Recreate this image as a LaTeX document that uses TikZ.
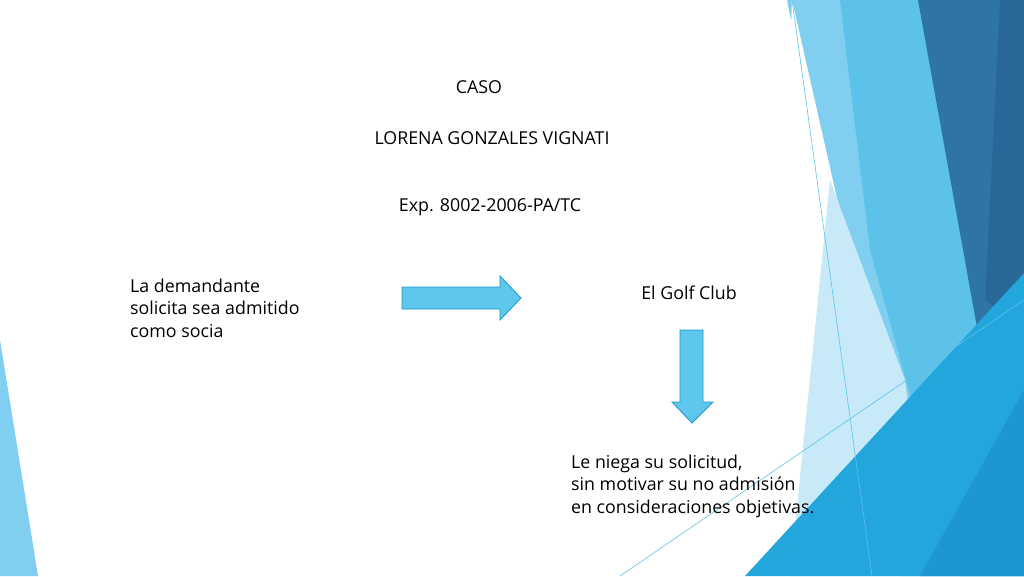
\documentclass[tikz,border=0pt]{standalone}
\usepackage{fontspec}
\setmainfont{Open Sans}
\begin{document}
\begin{tikzpicture}[x=1pt,y=-1pt]
  % Couleurs
  \definecolor{ciel}{RGB}{128,206,240}
  \definecolor{pale}{RGB}{200,234,248}
  \definecolor{moyen}{RGB}{92,194,234}
  \definecolor{fonce}{RGB}{46,117,166}
  \definecolor{fonce2}{RGB}{40,104,152}
  \definecolor{vif}{RGB}{34,166,220}
  \definecolor{vif2}{RGB}{30,150,206}
  \definecolor{fleche}{RGB}{93,200,236}
  \tikzset{txt/.style={font=\fontsize{17.8}{22.5}\selectfont, inner sep=0pt},
           bloc/.style={fill=fleche, draw=vif2, line width=0.8pt}}

  % Fond
  \fill[white] (0,0) rectangle (1024,576);
  \useasboundingbox (0,0) rectangle (1024,576);

  % Décor à droite
  \fill[ciel] (787,0) -- (1024,0) -- (1024,576) -- (900,576) -- cycle;
  \fill[white] (792,0) -- (860,300) -- (790,576) -- (770,576) -- cycle;
  \fill[pale] (830,180) -- (905,380) -- (930,576) -- (790,576) -- cycle;
  \fill[moyen] (840,0) -- (918,0) -- (1024,420) -- (1024,576) -- (960,576) -- (870,250) -- cycle;
  \fill[fonce] (918,0) -- (1024,0) -- (1024,330) -- (978,333) -- cycle;
  \fill[fonce2] (1000,0) -- (1024,0) -- (1024,330) -- (985,300) -- cycle;
  \fill[vif] (745,576) -- (1024,273) -- (1024,576) -- cycle;
  \fill[vif2] (920,576) -- (1024,390) -- (1024,576) -- cycle;
  \draw[moyen, line width=0.6pt] (792,0) -- (872,576);
  \draw[moyen, line width=0.6pt] (620,576) -- (1024,300);

  % Décor à gauche
  \fill[ciel] (0,340) -- (38,576) -- (0,576) -- cycle;

  % Titres
  \node[txt] (caso) at (479,87) {CASO};
  \node[txt] (nom) at (492,138) {LORENA GONZALES VIGNATI};
  \node[txt] (exp) at (490,207) {Exp. 8002-2006-PA/TC};

  % Textes
  \node[txt, anchor=west, align=left] (demande) at (130,308)
    {La demandante\\solicita sea admitido\\como socia};
  \node[txt] (club) at (689,293) {El Golf Club};
  \node[txt, anchor=west, align=left] (refus) at (571,486)
    {Le niega su solicitud,\\sin motivar su no admisión\\en consideraciones objetivas.};

  % Flèches
  \draw[bloc] (402,287) -- (500,287) -- (500,276) -- (521,298) -- (500,320)
    -- (500,309) -- (402,309) -- cycle;
  \draw[bloc] (680,330) -- (703,330) -- (703,402) -- (713,402) -- (692,423)
    -- (672,402) -- (680,402) -- cycle;
\end{tikzpicture}
\end{document}
